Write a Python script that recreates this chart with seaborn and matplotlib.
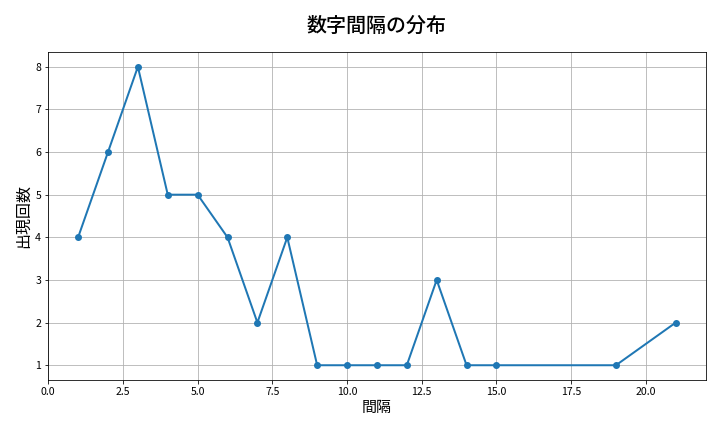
import matplotlib
matplotlib.use("Agg")
import matplotlib.pyplot as plt
import seaborn as sns
import pandas as pd

intervals = [1, 2, 3, 4, 5, 6, 7, 8, 9, 10, 11, 12, 13, 14, 15, 19, 21]
counts = [4, 6, 8, 5, 5, 4, 2, 4, 1, 1, 1, 1, 3, 1, 1, 1, 2]

df = pd.DataFrame({"interval": intervals, "count": counts})

plt.rcParams['font.family'] = ['Noto Sans CJK JP', 'DejaVu Sans']

fig, ax = plt.subplots(figsize=(10, 6), dpi=72)
sns.lineplot(data=df, x="interval", y="count", marker="o", ax=ax,
             color="#1f77b4", linewidth=2, markersize=7, markeredgewidth=0)
ax.set_title("数字間隔の分布", fontsize=20, fontweight="medium", pad=20)
ax.set_xlabel("間隔", fontsize=15, labelpad=4)
ax.set_ylabel("出現回数", fontsize=16, labelpad=3)
ax.tick_params(labelsize=10.5)
ax.grid(True, color="#b0b0b0", linewidth=0.8)
ax.set_xlim(0, 22)
fig.subplots_adjust(left=0.067, right=0.98, top=0.88, bottom=0.12)
fig.savefig("out.png", dpi=72)
